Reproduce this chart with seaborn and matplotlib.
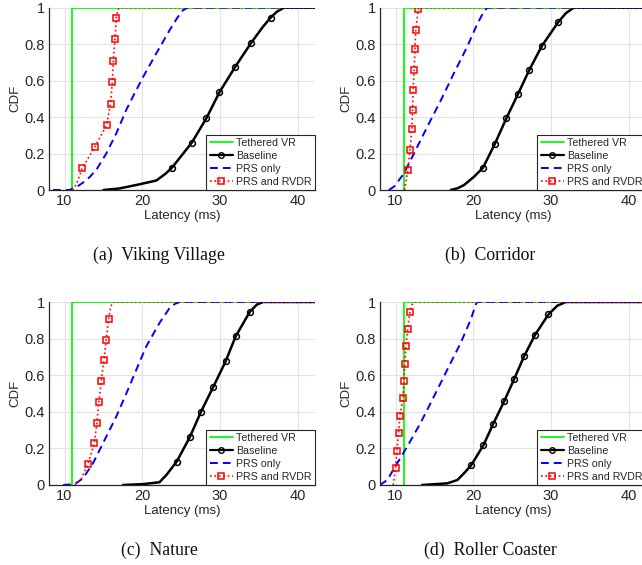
import matplotlib
matplotlib.use("Agg")
import matplotlib.pyplot as plt
from matplotlib.lines import Line2D
import seaborn as sns

# ---------------- data ----------------
# (a) Viking Village
a_teth_x = [11, 11, 43]
a_teth_y = [0, 1, 1]
a_base_x = [15, 17, 19.5, 21.8, 23, 23.8, 26.35, 28.24, 29.9, 31.93, 34.0, 35.5, 36.48, 37.3, 38.2, 43]
a_base_y = [0, 0.008, 0.03, 0.052, 0.09, 0.122, 0.259, 0.394, 0.535, 0.675, 0.808, 0.895, 0.945, 0.978, 1.0, 1.0]
a_base_mx = [23.8, 26.35, 28.24, 29.9, 31.93, 34.0, 36.48]
a_base_my = [0.122, 0.259, 0.394, 0.535, 0.675, 0.808, 0.945]
a_prs_x = [8.5, 10.6, 11.5, 12.36, 13.2, 14.08, 15.36, 16.65, 17.94, 19.0, 20.1, 21.8, 23.5, 24.5, 25.2, 25.8, 43]
a_prs_y = [0, 0, 0.015, 0.04, 0.07, 0.11, 0.2, 0.31, 0.44, 0.53, 0.62, 0.75, 0.876, 0.945, 0.985, 1, 1]
a_rvdr_x = [11, 11.5, 12.27, 13.9, 15.4, 15.92, 16.14, 16.27, 16.48, 16.65, 16.85, 17.1, 43]
a_rvdr_y = [0, 0.03, 0.119, 0.237, 0.354, 0.474, 0.593, 0.71, 0.827, 0.945, 0.99, 1, 1]
a_rvdr_mx = [12.27, 13.9, 15.4, 15.92, 16.14, 16.27, 16.48, 16.65]
a_rvdr_my = [0.119, 0.237, 0.354, 0.474, 0.593, 0.71, 0.827, 0.945]

# (b) Corridor
b_teth_x = [11.1, 11.1, 43]
b_teth_y = [0, 1, 1]
b_base_x = [17.1, 18.0, 18.8, 20.1, 21.24, 22.79, 24.25, 25.75, 27.2, 28.84, 30.9, 31.9, 32.9, 43]
b_base_y = [0, 0.01, 0.027, 0.073, 0.122, 0.255, 0.394, 0.527, 0.659, 0.792, 0.92, 0.97, 1, 1]
b_base_mx = [21.24, 22.79, 24.25, 25.75, 27.2, 28.84, 30.9]
b_base_my = [0.122, 0.255, 0.394, 0.527, 0.659, 0.792, 0.92]
b_prs_x = [9.14, 9.8, 11.07, 12.36, 14.08, 15.8, 17.5, 19.2, 20.5, 21.3, 21.8, 43]
b_prs_y = [0, 0.018, 0.09, 0.2, 0.347, 0.49, 0.64, 0.785, 0.91, 0.975, 1, 1]
b_rvdr_x = [11.16, 11.59, 11.85, 12.1, 12.19, 12.27, 12.4, 12.49, 12.6, 12.92, 13.0, 43]
b_rvdr_y = [0, 0.109, 0.219, 0.332, 0.44, 0.55, 0.66, 0.772, 0.88, 0.993, 1, 1]
b_rvdr_mx = [11.59, 11.85, 12.1, 12.19, 12.27, 12.4, 12.49, 12.6, 12.92]
b_rvdr_my = [0.109, 0.219, 0.332, 0.44, 0.55, 0.66, 0.772, 0.88, 0.993]

# (c) Nature
c_teth_x = [11, 11, 43]
c_teth_y = [0, 1, 1]
c_base_x = [17.5, 20.1, 22.2, 23.1, 24.42, 26.1, 27.55, 29.14, 30.7, 32.0, 33.8, 34.7, 35.5, 43]
c_base_y = [0, 0.005, 0.015, 0.055, 0.128, 0.261, 0.401, 0.538, 0.675, 0.812, 0.945, 0.985, 1, 1]
c_base_mx = [24.42, 26.1, 27.55, 29.14, 30.7, 32.0, 33.8]
c_base_my = [0.128, 0.261, 0.401, 0.538, 0.675, 0.812, 0.945]
c_prs_x = [9.8, 11.3, 12.36, 13.65, 14.94, 16.65, 17.94, 19.23, 20.5, 22.2, 23.5, 24.2, 24.8, 43]
c_prs_y = [0, 0.005, 0.036, 0.118, 0.228, 0.374, 0.5, 0.63, 0.757, 0.885, 0.967, 0.99, 1, 1]
c_rvdr_x = [11.3, 12.1, 13.0, 13.82, 14.16, 14.42, 14.72, 15.06, 15.36, 15.67, 15.95, 16.2, 43]
c_rvdr_y = [0, 0.027, 0.115, 0.228, 0.341, 0.454, 0.569, 0.681, 0.794, 0.909, 0.975, 1, 1]
c_rvdr_mx = [13.0, 13.82, 14.16, 14.42, 14.72, 15.06, 15.36, 15.67]
c_rvdr_my = [0.115, 0.228, 0.341, 0.454, 0.569, 0.681, 0.794, 0.909]

# (d) Roller Coaster
d_teth_x = [11.1, 11.1, 43]
d_teth_y = [0, 1, 1]
d_base_x = [13.4, 16.65, 17.94, 18.8, 19.74, 21.29, 22.58, 23.99, 25.24, 26.52, 27.94, 29.66, 30.8, 31.9, 43]
d_base_y = [0, 0.009, 0.027, 0.064, 0.109, 0.217, 0.336, 0.46, 0.578, 0.703, 0.821, 0.932, 0.98, 1, 1]
d_base_mx = [19.74, 21.29, 22.58, 23.99, 25.24, 26.52, 27.94, 29.66]
d_base_my = [0.109, 0.217, 0.336, 0.46, 0.578, 0.703, 0.821, 0.932]
d_prs_x = [7.98, 8.93, 10.2, 11.5, 13.2, 14.94, 16.65, 18.37, 19.66, 20.3, 20.5, 43]
d_prs_y = [0, 0.027, 0.118, 0.21, 0.338, 0.484, 0.63, 0.776, 0.903, 0.985, 1, 1]
d_rvdr_x = [9.7, 10.0, 10.17, 10.39, 10.56, 10.94, 11.07, 11.2, 11.33, 11.55, 11.85, 12.1, 12.36, 43]
d_rvdr_y = [0, 0.095, 0.188, 0.283, 0.378, 0.474, 0.569, 0.662, 0.757, 0.852, 0.945, 0.985, 1, 1]
d_rvdr_mx = [10.0, 10.17, 10.39, 10.56, 10.94, 11.07, 11.2, 11.33, 11.55, 11.85]
d_rvdr_my = [0.095, 0.188, 0.283, 0.378, 0.474, 0.569, 0.662, 0.757, 0.852, 0.945]

series_labels = ["Tethered VR", "Baseline", "PRS only", "PRS and RVDR"]
captions = ["(a)  Viking Village", "(b)  Corridor", "(c)  Nature", "(d)  Roller Coaster"]
x_ticks = [10, 20, 30, 40]
y_ticks = [0, 0.2, 0.4, 0.6, 0.8, 1]
y_ticklabels = ["0", "0.2", "0.4", "0.6", "0.8", "1"]

panels = [
    (a_teth_x, a_teth_y, a_base_x, a_base_y, a_base_mx, a_base_my, a_prs_x, a_prs_y, a_rvdr_x, a_rvdr_y, a_rvdr_mx, a_rvdr_my),
    (b_teth_x, b_teth_y, b_base_x, b_base_y, b_base_mx, b_base_my, b_prs_x, b_prs_y, b_rvdr_x, b_rvdr_y, b_rvdr_mx, b_rvdr_my),
    (c_teth_x, c_teth_y, c_base_x, c_base_y, c_base_mx, c_base_my, c_prs_x, c_prs_y, c_rvdr_x, c_rvdr_y, c_rvdr_mx, c_rvdr_my),
    (d_teth_x, d_teth_y, d_base_x, d_base_y, d_base_mx, d_base_my, d_prs_x, d_prs_y, d_rvdr_x, d_rvdr_y, d_rvdr_mx, d_rvdr_my),
]

# ---------------- style ----------------
sns.set_style("whitegrid")
plt.rcParams["font.family"] = ["Liberation Sans", "DejaVu Sans"]
plt.rcParams["axes.edgecolor"] = "#262626"
plt.rcParams["grid.color"] = "#e3e3e3"

W, H = 642, 565
fig = plt.figure(figsize=(W / 100, H / 100), dpi=100)

# axes boxes in pixels: left, top, right, bottom
boxes = [(49, 7.7, 315, 190), (380, 7.7, 646, 190), (49, 302, 315, 485), (380, 302, 646, 485)]
caption_pos = [(159, 255), (490, 255), (159, 550), (490, 550)]

GREEN = "#00ff00"
BLUE = "#0000ff"
RED = "#ff0000"
BLUE_DASH = (4.0, 2.6)

for (l, t, r, b), data, cap, cpos in zip(boxes, panels, captions, caption_pos):
    ax = fig.add_axes([l / W, 1 - b / H, (r - l) / W, (b - t) / H])
    (tx, ty, bx, by, bmx, bmy, px, py, rx, ry, rmx, rmy) = data
    sns.lineplot(x=tx, y=ty, ax=ax, color=GREEN, linewidth=1.3, sort=False, estimator=None)
    sns.lineplot(x=bx, y=by, ax=ax, color="black", linewidth=1.8, sort=False, estimator=None)
    sns.lineplot(x=bmx, y=bmy, ax=ax, color="black", linestyle="none", marker="o",
                 markersize=4.2, markerfacecolor="none", markeredgecolor="black",
                 markeredgewidth=1.1, sort=False, estimator=None)
    sns.lineplot(x=px, y=py, ax=ax, color=BLUE, linewidth=1.4,
                 sort=False, estimator=None).lines[-1].set_dashes(BLUE_DASH)
    sns.lineplot(x=rx, y=ry, ax=ax, color=RED, linewidth=1.2, linestyle=":",
                 sort=False, estimator=None)
    sns.lineplot(x=rmx, y=rmy, ax=ax, color=RED, linestyle="none", marker="s",
                 markersize=3.8, markerfacecolor="none", markeredgecolor=RED,
                 markeredgewidth=1.1, sort=False, estimator=None)

    ax.set_xlim(8, 42.2)
    ax.set_ylim(0, 1)
    ax.set_xticks(x_ticks)
    ax.set_yticks(y_ticks)
    ax.set_yticklabels(y_ticklabels)
    ax.tick_params(axis="both", labelsize=10.5, colors="#262626", length=0, pad=3)
    ax.set_xlabel("Latency (ms)", fontsize=9.5, color="#262626", labelpad=1)
    ax.set_ylabel("CDF", fontsize=9.5, color="#262626", labelpad=2)
    ax.grid(True, color="#e3e3e3", linewidth=0.8)
    for s in ["top", "right"]:
        ax.spines[s].set_visible(False)
    for s in ["left", "bottom"]:
        ax.spines[s].set_linewidth(0.9)
        ax.spines[s].set_color("#262626")

    handles = [
        Line2D([], [], color=GREEN, linewidth=1.3),
        Line2D([], [], color="black", linewidth=1.6, marker="o", markersize=4,
               markerfacecolor="none", markeredgewidth=1.0),
        Line2D([], [], color=BLUE, linewidth=1.4, dashes=BLUE_DASH),
        Line2D([], [], color=RED, linewidth=1.2, linestyle=":", marker="s",
               markersize=3.8, markerfacecolor="none", markeredgewidth=1.1),
    ]
    leg = ax.legend(handles, series_labels, loc="lower right", fontsize=7.7,
                    frameon=True, fancybox=False, framealpha=1, edgecolor="#262626",
                    borderaxespad=0, borderpad=0.3, labelspacing=0.28,
                    handlelength=2.2, handletextpad=0.3)
    leg.get_frame().set_linewidth(0.8)

    fig.text(cpos[0] / W, 1 - cpos[1] / H, cap, ha="center", va="center",
             fontsize=12.8, family=["Liberation Serif", "DejaVu Serif"], color="#111111")

fig.savefig("out.png", dpi=100)
